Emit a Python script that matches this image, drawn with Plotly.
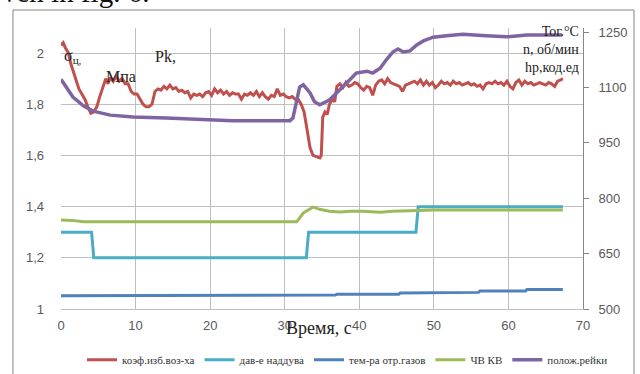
import plotly.graph_objects as go

# ---- data ----
red_t = [0, 0.3, 0.6, 1.0, 1.3, 1.6, 2.0, 2.4, 2.8, 3.2, 3.6, 4.0, 4.4, 4.8, 5.2, 5.6, 6.0, 6.3, 6.6, 7.0,
         7.4, 7.8, 8.2, 8.6, 9.0, 9.4, 9.8, 10.2, 10.6, 11.0, 11.4, 11.8, 12.2, 12.6, 13.0, 13.4, 13.8, 14.2,
         14.6, 15.0, 15.4, 15.8, 16.2, 16.6, 17.0, 17.4, 17.8, 18.2, 18.6, 19.0, 19.4, 19.8, 20.2, 20.6, 21.0,
         21.4, 21.8, 22.2, 22.6, 23.0, 23.4, 23.8, 24.2, 24.6, 25.0, 25.4, 25.8, 26.2, 26.6, 27.0, 27.4, 27.8,
         28.2, 28.6, 29.0, 29.4, 29.8, 30.2, 30.6, 31.0, 31.4, 31.8, 32.2, 32.6, 33.0, 33.4, 33.8, 34.2, 34.7,
         34.9, 35.1, 35.4, 35.7, 36.0, 36.4, 36.7, 37.0, 37.4, 37.8, 38.2, 38.6, 39.0, 39.4, 39.8, 40.2, 40.6,
         41.0, 41.4, 41.8, 42.2, 42.6, 43.0, 43.4, 43.8, 44.2, 44.6, 45.0, 45.4, 45.8, 46.2, 46.6, 47.0, 47.4,
         47.8, 48.2, 48.6, 49.0, 49.4, 49.8, 50.2, 50.6, 51.0, 51.4, 51.8, 52.2, 52.6, 53.0, 53.4, 53.8, 54.2,
         54.6, 55.0, 55.4, 55.8, 56.2, 56.6, 57.0, 57.4, 57.8, 58.2, 58.6, 59.0, 59.4, 59.8, 60.2, 60.6, 61.0,
         61.4, 61.8, 62.2, 62.6, 63.0, 63.4, 63.8, 64.2, 64.6, 65.0, 65.4, 65.8, 66.2, 66.6, 67.0, 67.3]
red_v = [2.03, 2.04, 2.02, 2.00, 1.96, 1.93, 1.90, 1.86, 1.84, 1.82, 1.79, 1.765, 1.77, 1.79, 1.83, 1.87, 1.90,
         1.88, 1.905, 1.89, 1.91, 1.89, 1.90, 1.88, 1.88, 1.85, 1.84, 1.84, 1.82, 1.80, 1.79, 1.79, 1.80, 1.85,
         1.86, 1.855, 1.87, 1.86, 1.875, 1.86, 1.865, 1.85, 1.855, 1.845, 1.85, 1.825, 1.84, 1.835, 1.84, 1.83,
         1.845, 1.85, 1.835, 1.86, 1.845, 1.855, 1.84, 1.85, 1.835, 1.845, 1.84, 1.84, 1.82, 1.84, 1.835, 1.845,
         1.835, 1.85, 1.83, 1.845, 1.83, 1.82, 1.835, 1.83, 1.86, 1.835, 1.84, 1.83, 1.825, 1.83, 1.82, 1.82,
         1.80, 1.77, 1.70, 1.63, 1.60, 1.595, 1.59, 1.60, 1.75, 1.77, 1.76, 1.80, 1.82, 1.81, 1.87, 1.88, 1.865,
         1.885, 1.87, 1.875, 1.885, 1.88, 1.865, 1.855, 1.87, 1.865, 1.835, 1.875, 1.89, 1.895, 1.88, 1.90,
         1.885, 1.88, 1.875, 1.87, 1.85, 1.875, 1.88, 1.885, 1.89, 1.88, 1.895, 1.875, 1.89, 1.875, 1.885,
         1.865, 1.875, 1.89, 1.88, 1.885, 1.875, 1.89, 1.88, 1.885, 1.875, 1.88, 1.885, 1.875, 1.88, 1.87,
         1.875, 1.86, 1.88, 1.885, 1.88, 1.89, 1.88, 1.885, 1.875, 1.89, 1.87, 1.86, 1.885, 1.895, 1.875, 1.89,
         1.88, 1.885, 1.875, 1.88, 1.885, 1.88, 1.875, 1.885, 1.88, 1.87, 1.89, 1.895, 1.90]

cyan_t = [0, 4.1, 4.4, 32.9, 33.2, 47.6, 47.9, 67.3]
cyan_v = [1.3, 1.3, 1.2, 1.2, 1.3, 1.3, 1.4, 1.4]

blue_t = [0, 30.3, 30.6, 36.8, 37.0, 45.3, 45.5, 49.7, 49.9, 56.0, 56.2, 62.3, 62.5, 67.3]
blue_v = [536, 536, 538, 538, 540, 540, 543, 543, 545, 545, 549, 549, 553, 553]

green_t = [0, 1.5, 3.0, 10, 20, 31.6, 32.5, 33.8, 34.7, 36.0, 37.4, 38.7, 40.5, 42.8, 44.5, 47.7, 50, 60, 67.3]
green_v = [741, 740, 736, 736, 736, 736, 760, 776, 770, 765, 763, 765, 765, 762, 765, 766, 768, 768, 768]

purple_t = [0, 0.8, 1.6, 3.0, 4.3, 6.6, 9.7, 14.1, 18.6, 23.0, 27.6, 30.7, 31.1, 31.6, 32.0, 32.5, 33.4, 34.0,
            34.7, 36.0, 37.0, 37.8, 38.7, 39.6, 41.0, 41.8, 42.8, 43.7, 44.5, 45.2, 45.9, 46.8, 47.7, 48.6,
            49.9, 51.7, 53.9, 57.0, 59.8, 62.5, 66.0, 67.2]
purple_v = [1122, 1098, 1074, 1050, 1036, 1025, 1020, 1017, 1014, 1010, 1010, 1010, 1017, 1066, 1101, 1107,
            1085, 1061, 1053, 1066, 1085, 1101, 1120, 1139, 1144, 1139, 1152, 1177, 1196, 1204, 1196, 1199,
            1215, 1226, 1236, 1240, 1244, 1240, 1237, 1242, 1242, 1242]

left_ticks = [1, 1.2, 1.4, 1.6, 1.8, 2]
left_text = ["1", "1,2", "1,4", "1,6", "1,8", "2"]
right_ticks = [500, 650, 800, 950, 1100, 1250]
right_text = ["500", "650", "800", "950", "1100", "1250"]
x_ticks = [0, 10, 20, 30, 40, 50, 60, 70]

names = ["коэф.изб.воз-ха", "дав-е наддува", "тем-ра отр.газов", "ЧВ КВ", "полож.рейки"]
colors = ["#C0504D", "#4BACC6", "#4F81BD", "#9BBB59", "#8064A2"]

fig = go.Figure()
fig.add_trace(go.Scatter(x=red_t, y=red_v, name=names[0], mode="lines",
                         line=dict(color=colors[0], width=3), yaxis="y"))
fig.add_trace(go.Scatter(x=cyan_t, y=cyan_v, name=names[1], mode="lines",
                         line=dict(color=colors[1], width=3), yaxis="y"))
fig.add_trace(go.Scatter(x=blue_t, y=blue_v, name=names[2], mode="lines",
                         line=dict(color=colors[2], width=3), yaxis="y2"))
fig.add_trace(go.Scatter(x=green_t, y=green_v, name=names[3], mode="lines",
                         line=dict(color=colors[3], width=3), yaxis="y2"))
fig.add_trace(go.Scatter(x=purple_t, y=purple_v, name=names[4], mode="lines",
                         line=dict(color=colors[4], width=3.5), yaxis="y2"))

tickfont = dict(family="Liberation Sans", size=13, color="#595959")
serif = "Liberation Serif"

fig.update_layout(
    width=640, height=374,
    font=dict(family=serif, size=12, color="#333333"),
    margin=dict(l=61, r=57, t=28, b=65, autoexpand=False),
    paper_bgcolor="white", plot_bgcolor="white",
    showlegend=True,
    legend=dict(orientation="h", x=1.0575, xanchor="right", y=-0.181, yanchor="middle",
                font=dict(family=serif, size=11, color="#333333"),
                itemwidth=30, tracegroupgap=0, bgcolor="rgba(0,0,0,0)"),
    xaxis=dict(range=[0, 70], tickvals=x_ticks, showgrid=True, gridcolor="#BFBFBF", gridwidth=1,
               zeroline=False, showline=True, linecolor="#BFBFBF", ticks="", tickfont=tickfont,
               ticklabelstandoff=4, automargin=False),
    yaxis=dict(range=[1, 2.098], tickvals=left_ticks, ticktext=left_text, showgrid=True,
               gridcolor="#BFBFBF", gridwidth=1, zeroline=False, showline=False, ticks="",
               tickfont=tickfont, ticklabelstandoff=16, automargin=False),
    yaxis2=dict(range=[500, 1261], overlaying="y", side="right", tickvals=right_ticks,
                ticktext=right_text, showgrid=False, zeroline=False, showline=True,
                linecolor="#868686", ticks="outside", ticklen=5, tickcolor="#868686",
                tickfont=tickfont, ticklabelstandoff=7, automargin=False),
    shapes=[dict(type="rect", xref="paper", yref="paper", x0=-0.092, x1=1.0977, y0=-0.26, y1=1.064,
                 line=dict(color="#868686", width=1), fillcolor="rgba(0,0,0,0)", layer="below")],
    annotations=[
        dict(text="ven in fig. 6.", xref="paper", yref="paper", x=-0.117, xanchor="left",
             y=1.063, yanchor="bottom", showarrow=False, font=dict(family=serif, size=29, color="#111")),
        dict(text="σ<sub>ц,</sub>", xref="x", yref="y", x=0.2, xanchor="left", y=1.985, yanchor="middle",
             showarrow=False, font=dict(family=serif, size=16, color="#222")),
        dict(text="Мпа", xref="x", yref="y", x=5.8, xanchor="left", y=1.91, yanchor="middle",
             showarrow=False, font=dict(family=serif, size=16, color="#222")),
        dict(text="Pk,", xref="x", yref="y", x=12.4, xanchor="left", y=1.987, yanchor="middle",
             showarrow=False, font=dict(family=serif, size=16, color="#222")),
        dict(text="Тог.°С<br>n, об/мин<br>hp,код.ед", xref="paper", yref="paper", x=0.997, xanchor="right",
             y=1.02, yanchor="top", align="right", showarrow=False,
             font=dict(family=serif, size=14, color="#222")),
        dict(text="Время, с", xref="x", yref="paper", x=34.6, xanchor="center", y=-0.068, yanchor="middle",
             showarrow=False, font=dict(family=serif, size=18, color="#222")),
    ],
)

fig.write_html("out.html", config={"displayModeBar": False},
               post_script="document.body.style.margin='0';document.body.style.overflow='hidden';")
